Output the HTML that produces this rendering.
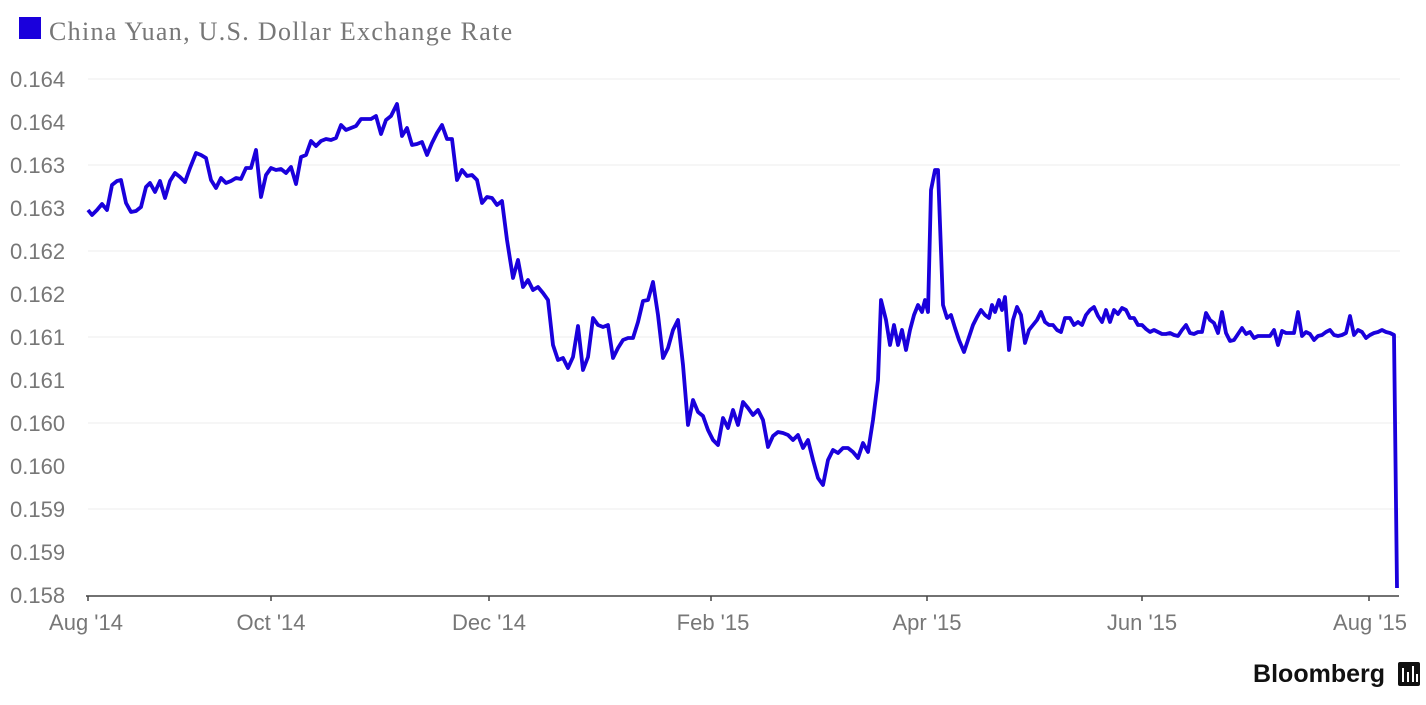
<!DOCTYPE html>
<html><head><meta charset="utf-8"><style>
body{margin:0;background:#fff;width:1426px;height:700px;overflow:hidden;font-family:"Liberation Sans",sans-serif}
</style></head><body>
<svg width="1426" height="700" xmlns="http://www.w3.org/2000/svg">
<rect x="19" y="17" width="22" height="22" fill="#1a00dc"/>
<text x="49" y="40" font-family="Liberation Serif,serif" font-size="26" letter-spacing="1.3" fill="#777">China Yuan, U.S. Dollar Exchange Rate</text>
<g stroke="#eeeeee" stroke-width="1">
<line x1="88" x2="1400" y1="79" y2="79"/><line x1="88" x2="1400" y1="165" y2="165"/><line x1="88" x2="1400" y1="251" y2="251"/><line x1="88" x2="1400" y1="337" y2="337"/><line x1="88" x2="1400" y1="423" y2="423"/><line x1="88" x2="1400" y1="509" y2="509"/>
</g>
<g font-size="22" fill="#777" text-anchor="start">
<text x="10" y="87">0.164</text><text x="10" y="130">0.164</text><text x="10" y="173">0.163</text><text x="10" y="216">0.163</text><text x="10" y="259">0.162</text><text x="10" y="302">0.162</text><text x="10" y="345">0.161</text><text x="10" y="388">0.161</text><text x="10" y="431">0.160</text><text x="10" y="474">0.160</text><text x="10" y="517">0.159</text><text x="10" y="560">0.159</text><text x="10" y="603">0.158</text>
</g>
<line x1="86" x2="1399" y1="596" y2="596" stroke="#444" stroke-width="1.5"/>
<g stroke="#444" stroke-width="1.5">
<line x1="88" x2="88" y1="596" y2="601"/><line x1="271" x2="271" y1="596" y2="601"/><line x1="489" x2="489" y1="596" y2="601"/><line x1="711" x2="711" y1="596" y2="601"/><line x1="927" x2="927" y1="596" y2="601"/><line x1="1142" x2="1142" y1="596" y2="601"/><line x1="1369" x2="1369" y1="596" y2="601"/>
</g>
<g font-size="22" fill="#777" text-anchor="middle">
<text x="86" y="630">Aug '14</text><text x="271" y="630">Oct '14</text><text x="489" y="630">Dec '14</text><text x="713" y="630">Feb '15</text><text x="927" y="630">Apr '15</text><text x="1142" y="630">Jun '15</text><text x="1370" y="630">Aug '15</text>
</g>
<polyline fill="none" stroke="#1a00dc" stroke-width="3.8" stroke-linejoin="round" points="88,210 92,215 97,210 102,204 107,210 112,185 117,181 121,180 126,203 131,212 136,211 141,207 146,187 150,183 155,192 160,181 165,198 170,181 175,173 180,177 185,182 190,168 196,153 201,155 206,158 211,180 216,188 221,178 226,183 231,181 236,178 241,179 246,168 251,168 256,150 261,197 266,175 271,168 276,170 281,169 286,173 291,167 296,184 301,157 306,155 311,141 316,146 321,141 326,139 331,140 336,138 341,125 346,130 351,128 356,126 361,119 366,119 371,119 376,116 381,134 386,120 391,116 397,104 402,136 407,128 412,145 417,144 422,142 427,155 432,143 437,133 442,125 447,139 452,139 457,180 462,170 467,176 472,175 477,180 482,203 487,197 492,198 497,205 502,201 507,240 513,278 518,260 523,287 528,280 533,290 538,287 543,293 548,300 553,345 558,360 563,358 568,368 573,357 578,326 583,370 588,357 593,318 598,325 603,327 608,325 613,358 618,348 623,340 628,338 633,338 638,322 643,301 648,300 653,282 658,315 663,358 668,348 673,330 678,320 683,365 688,425 693,400 698,412 703,416 708,430 713,440 718,445 723,418 728,428 733,410 738,425 743,402 748,408 753,415 758,410 763,420 768,447 773,436 778,432 783,433 788,435 793,440 798,435 803,448 808,440 813,460 818,478 823,485 828,460 833,450 838,453 843,448 848,448 853,452 858,458 863,443 868,452 873,420 878,380 881,300 886,320 890,345 894,325 898,345 902,330 906,350 910,330 914,315 918,305 922,312 925,300 928,312 931,190 935,170 938,170 943,305 947,318 951,315 955,328 959,340 964,352 968,340 973,325 977,317 981,310 985,315 989,318 992,305 995,312 999,300 1002,310 1005,297 1009,350 1013,320 1017,307 1021,315 1025,343 1029,330 1033,325 1037,320 1041,312 1045,322 1049,325 1053,325 1057,330 1061,332 1065,318 1070,318 1074,325 1078,322 1082,325 1086,315 1090,310 1094,307 1098,316 1102,322 1106,310 1110,322 1114,310 1118,314 1122,308 1126,310 1130,318 1134,318 1138,325 1142,325 1146,329 1150,332 1154,330 1158,332 1162,334 1166,334 1170,333 1174,335 1178,336 1182,330 1186,325 1190,333 1194,334 1198,332 1202,332 1206,313 1210,320 1214,323 1218,333 1222,312 1226,333 1230,341 1234,340 1238,334 1242,328 1246,334 1250,332 1254,338 1258,336 1262,336 1266,336 1270,336 1274,330 1278,345 1282,331 1286,333 1290,333 1294,333 1298,312 1302,336 1306,332 1310,334 1314,340 1318,336 1322,335 1326,332 1330,330 1334,335 1338,336 1342,335 1346,333 1350,316 1354,335 1358,330 1362,332 1366,338 1370,335 1374,333 1378,332 1382,330 1386,332 1390,333 1394,335 1397,588"/>
<text x="1385" y="682" font-size="25" font-weight="bold" fill="#111" text-anchor="end">Bloomberg</text>
<rect x="1398" y="662" width="22" height="24" rx="2" fill="#111"/>
<g stroke="#fff" stroke-width="2"><line x1="1403" y1="668" x2="1403" y2="682"/><line x1="1408" y1="672" x2="1408" y2="682"/><line x1="1413" y1="666" x2="1413" y2="682"/><line x1="1417" y1="674" x2="1417" y2="682"/></g>
</svg>
</body></html>
